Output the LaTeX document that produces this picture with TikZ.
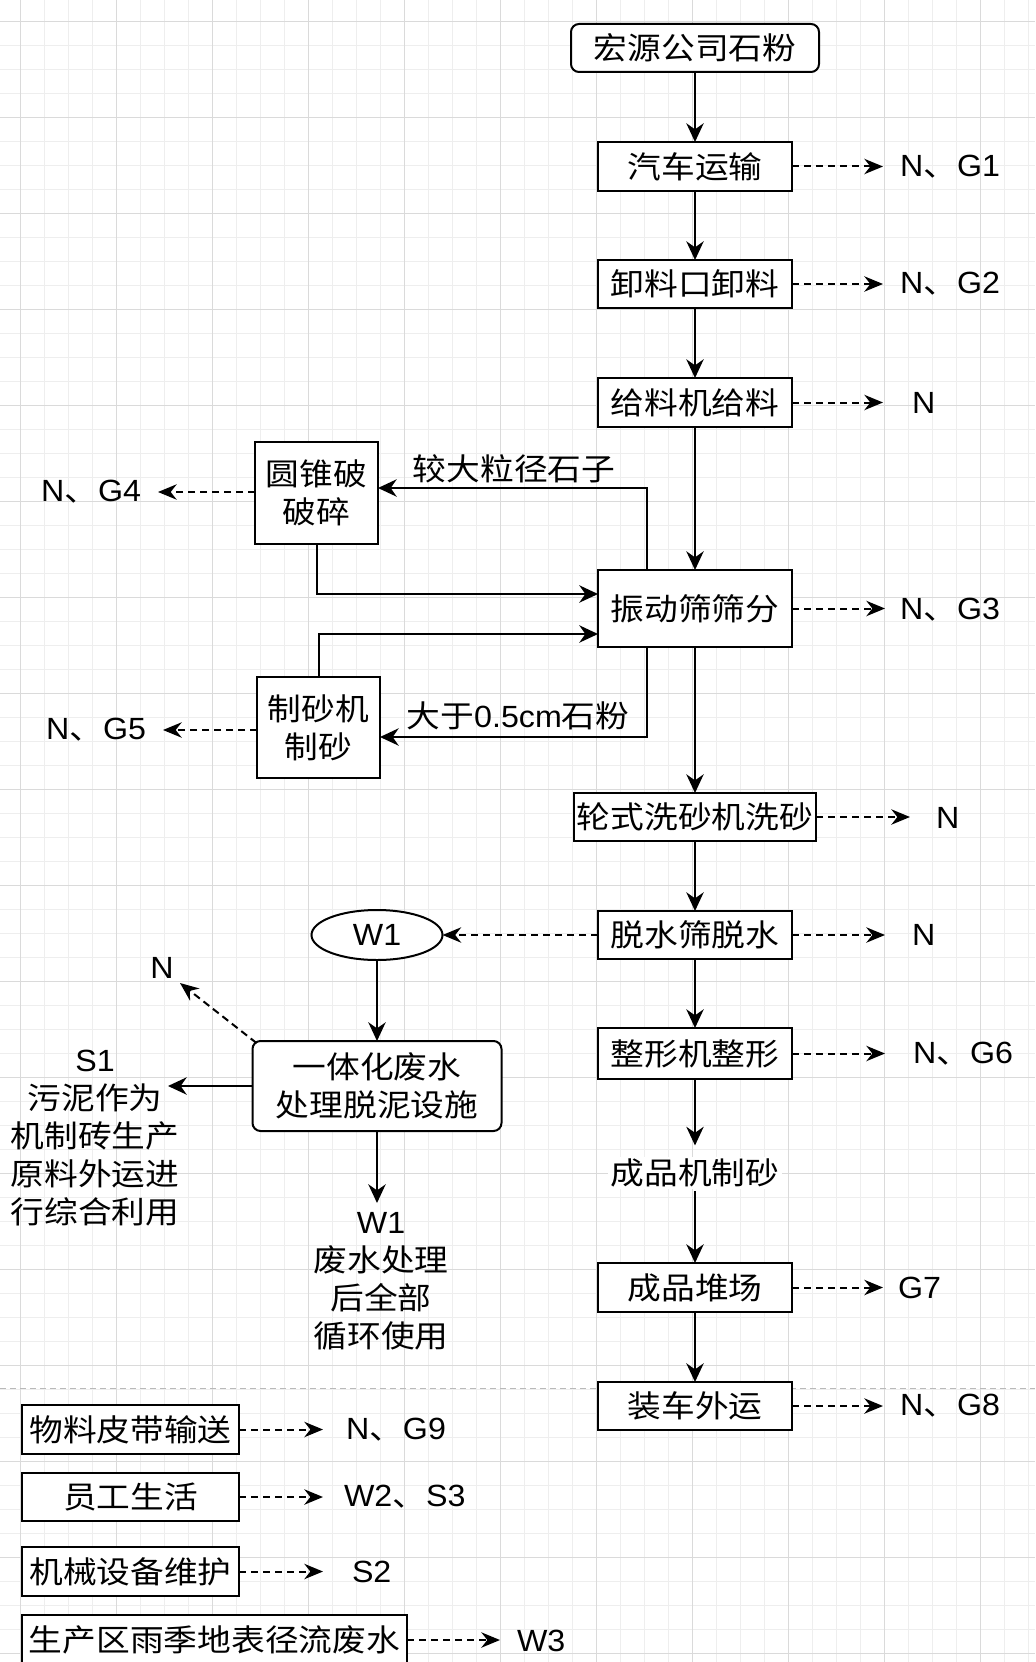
\documentclass[tikz,border=0pt]{standalone}
\usepackage{fontspec}
\setmainfont{Noto Sans CJK SC}[FakeStretch=1.1]
\newfontfamily\lat{Liberation Sans}[FakeStretch=1.05]
\usetikzlibrary{arrows.meta,shapes.geometric,calc}
\definecolor{gmin}{RGB}{238,238,238}
\definecolor{gmaj}{RGB}{218,218,218}
\definecolor{sepc}{RGB}{185,185,185}
\begin{document}
\begin{tikzpicture}[x=0.75pt,y=-0.75pt,
  every node/.style={font=\fontsize{23pt}{28.5pt}\selectfont, inner sep=0pt, outer sep=0pt},
  box/.style={draw, line width=1.5pt, fill=white, align=center},
  rbox/.style={box, rounded corners=6pt},
  arr/.style={line width=1.5pt, -{Stealth[length=14pt,width=13pt,inset=4.5pt]}},
  darr/.style={line width=1.5pt, dash pattern=on 5.5pt off 3.5pt, -{Stealth[length=14pt,width=11.5pt,inset=4.5pt]}},
  minorg/.style={gmin, line width=0.75pt},
  majorg/.style={gmaj, line width=0.75pt},
  lbl/.style={align=center},
  elbl/.style={fill=white, inner xsep=2pt, inner ysep=1pt}
]
\useasboundingbox (0,0) rectangle (1035,1662);
\fill[white] (0,0) rectangle (1035,1662);
% grid
\foreach \k in {0,...,42} {\pgfmathsetmacro\xx{20.5+24*\k}\draw[minorg] (\xx,0) -- (\xx,1662);}
\foreach \k in {0,...,68} {\pgfmathsetmacro\yy{21.5+24*\k}\draw[minorg] (0,\yy) -- (1035,\yy);}
\foreach \k in {0,...,10} {\pgfmathsetmacro\xx{20.5+96*\k}\draw[majorg] (\xx,0) -- (\xx,1662);}
\foreach \k in {0,...,17} {\pgfmathsetmacro\yy{21.5+96*\k}\draw[majorg] (0,\yy) -- (1035,\yy);}
% separator
\draw[sepc, line width=0.75pt, dash pattern=on 4.5pt off 3pt] (0,1388) -- (1035,1388);

% main column
\node[rbox, minimum width=186pt, minimum height=36pt] (src) at (695,48) {宏源公司石粉};
\node[box, minimum width=145.5pt, minimum height=36.75pt] (qc) at (695,166.5) {汽车运输};
\node[box, minimum width=145.5pt, minimum height=36pt] (xl) at (695,284) {卸料口卸料};
\node[box, minimum width=145.5pt, minimum height=36.75pt] (gl) at (695,402.5) {给料机给料};
\node[box, minimum width=145.5pt, minimum height=57.75pt] (zd) at (695,608.5) {振动筛筛分};
\node[box, minimum width=181.5pt, minimum height=36pt] (lx) at (695,817) {轮式洗砂机洗砂};
\node[box, minimum width=145.5pt, minimum height=36pt] (ts) at (695,935) {脱水筛脱水};
\node[box, minimum width=145.5pt, minimum height=38.25pt] (zx) at (695,1053.5) {整形机整形};
\node[elbl] (cp) at (695,1173) {成品机制砂};
\node[box, minimum width=145.5pt, minimum height=36.75pt] (dc) at (695,1287.5) {成品堆场};
\node[box, minimum width=145.5pt, minimum height=36pt] (zc) at (695,1406) {装车外运};

\draw[arr] (src) -- (qc);
\draw[arr] (qc) -- (xl);
\draw[arr] (xl) -- (gl);
\draw[arr] (gl) -- (zd);
\draw[arr] (zd) -- (lx);
\draw[arr] (lx) -- (ts);
\draw[arr] (ts) -- (zx);
\draw[arr] (zx.south) -- ([yshift=9pt]cp.north);
\draw[arr] ([yshift=-2pt]cp.south) -- (dc.north);
\draw[arr] (dc) -- (zc);

% right-side emissions
\coordinate (eqc) at (883,166.5);
\coordinate (exl) at (883,284);
\coordinate (egl) at (883,402.5);
\coordinate (ezd) at (885,608.5);
\coordinate (elx) at (910,817);
\coordinate (ets) at (885,935);
\coordinate (ezx) at (885,1053.5);
\coordinate (edc) at (883,1287.5);
\coordinate (ezc) at (883,1406);
\draw[darr] (qc) -- (eqc);
\draw[darr] (xl) -- (exl);
\draw[darr] (gl) -- (egl);
\draw[darr] (zd) -- (ezd);
\draw[darr] (lx) -- (elx);
\draw[darr] (ts) -- (ets);
\draw[darr] (zx) -- (ezx);
\draw[darr] (dc) -- (edc);
\draw[darr] (zc) -- (ezc);
\node[anchor=west] (lqc) at (900,166.5) {{\lat N}、{\lat G1}};
\node[anchor=west] (lxl) at (900,284) {{\lat N}、{\lat G2}};
\node[anchor=west] (lgl) at (912,402.5) {\lat N};
\node[anchor=west] (lzd) at (900,610) {{\lat N}、{\lat G3}};
\node[anchor=west] (llx) at (936,818) {\lat N};
\node[anchor=west] (lts) at (912,935) {\lat N};
\node[anchor=west] (lzx) at (913,1053.5) {{\lat N}、{\lat G6}};
\node[anchor=west] (ldc) at (898,1287.5) {\lat G7};
\node[anchor=west] (lzc) at (900,1406) {{\lat N}、{\lat G8}};

% crusher loops
\node[box, minimum width=92.25pt, minimum height=76.5pt] (yz) at (316.5,493) {圆锥破\\破碎};
\node[box, minimum width=92.25pt, minimum height=75.75pt] (zs) at (318.5,727.5) {制砂机\\制砂};
\draw[arr] ($(zd.north)+(-48,0)$) |- ($(yz.east)+(0,-5)$);
\draw[arr] (yz.south) |- ($(zd.west)+(0,-14.5)$);
\draw[arr] (zs.north) |- ($(zd.west)+(0,25.5)$);
\draw[arr] ($(zd.south)+(-48,0)$) |- ($(zs.east)+(0,9.5)$);
\node[lbl] (lb1) at (514,469) {较大粒径石子};
\node[lbl] (lb2) at (518,716) {大于{\lat 0.5cm}石粉};
\coordinate (eyz) at (158,492);
\coordinate (ezs) at (163,730);
\draw[darr] (yz.west |- eyz) -- (eyz);
\draw[darr] (zs.west |- ezs) -- (ezs);
\node[anchor=east] (lyz) at (141,492) {{\lat N}、{\lat G4}};
\node[anchor=east] (lzs) at (146,730) {{\lat N}、{\lat G5}};

% wastewater branch
\node[draw, ellipse, line width=1.5pt, fill=white, minimum width=98.25pt, minimum height=37.5pt] (w1) at (377,935) {\lat W1};
\draw[darr] (ts) -- (w1);
\node[rbox, minimum width=186.75pt, minimum height=67.5pt] (fs) at (377,1086) {一体化废水\\处理脱泥设施};
\draw[arr] (w1) -- (fs);
\coordinate (efsN) at (180,983);
\draw[darr] ([xshift=3pt,yshift=-1.5pt]fs.north west) -- (efsN);
\node (lfsN) at (162,968) {\lat N};
\coordinate (efsW) at (168,1086);
\draw[arr] (fs.west) -- (efsW);
\node[lbl] (s1) at (95,1138) {{\lat S1}\\污泥作为\\机制砖生产\\原料外运进\\行综合利用};
\coordinate (efsS) at (377,1203);
\draw[arr] (fs.south) -- (efsS);
\node[lbl] (w1t) at (381,1281) {{\lat W1}\\废水处理\\后全部\\循环使用};

% legend
\node[box, minimum width=162.75pt, minimum height=36.75pt] (wl) at (130.5,1429.5) {物料皮带输送};
\node[box, minimum width=162.75pt, minimum height=36pt] (yg) at (130.5,1497) {员工生活};
\node[box, minimum width=162.75pt, minimum height=36.75pt] (jx) at (130.5,1571.5) {机械设备维护};
\node[box, minimum width=288.75pt, minimum height=37.5pt] (sc) at (214.5,1640) {生产区雨季地表径流废水};
\coordinate (ewl) at (323,1429.5);
\coordinate (eyg) at (323,1497);
\coordinate (ejx) at (323,1571.5);
\coordinate (esc) at (500,1640);
\draw[darr] (wl) -- (ewl);
\draw[darr] (yg) -- (eyg);
\draw[darr] (jx) -- (ejx);
\draw[darr] (sc) -- (esc);
\node[anchor=west] (lwl) at (346,1430) {{\lat N}、{\lat G9}};
\node[anchor=west] (lyg) at (344,1497) {{\lat W2}、{\lat S3}};
\node[anchor=west] (ljx) at (352,1572) {\lat S2};
\node[anchor=west] (lsc) at (517,1641) {\lat W3};
\end{tikzpicture}
\end{document}
